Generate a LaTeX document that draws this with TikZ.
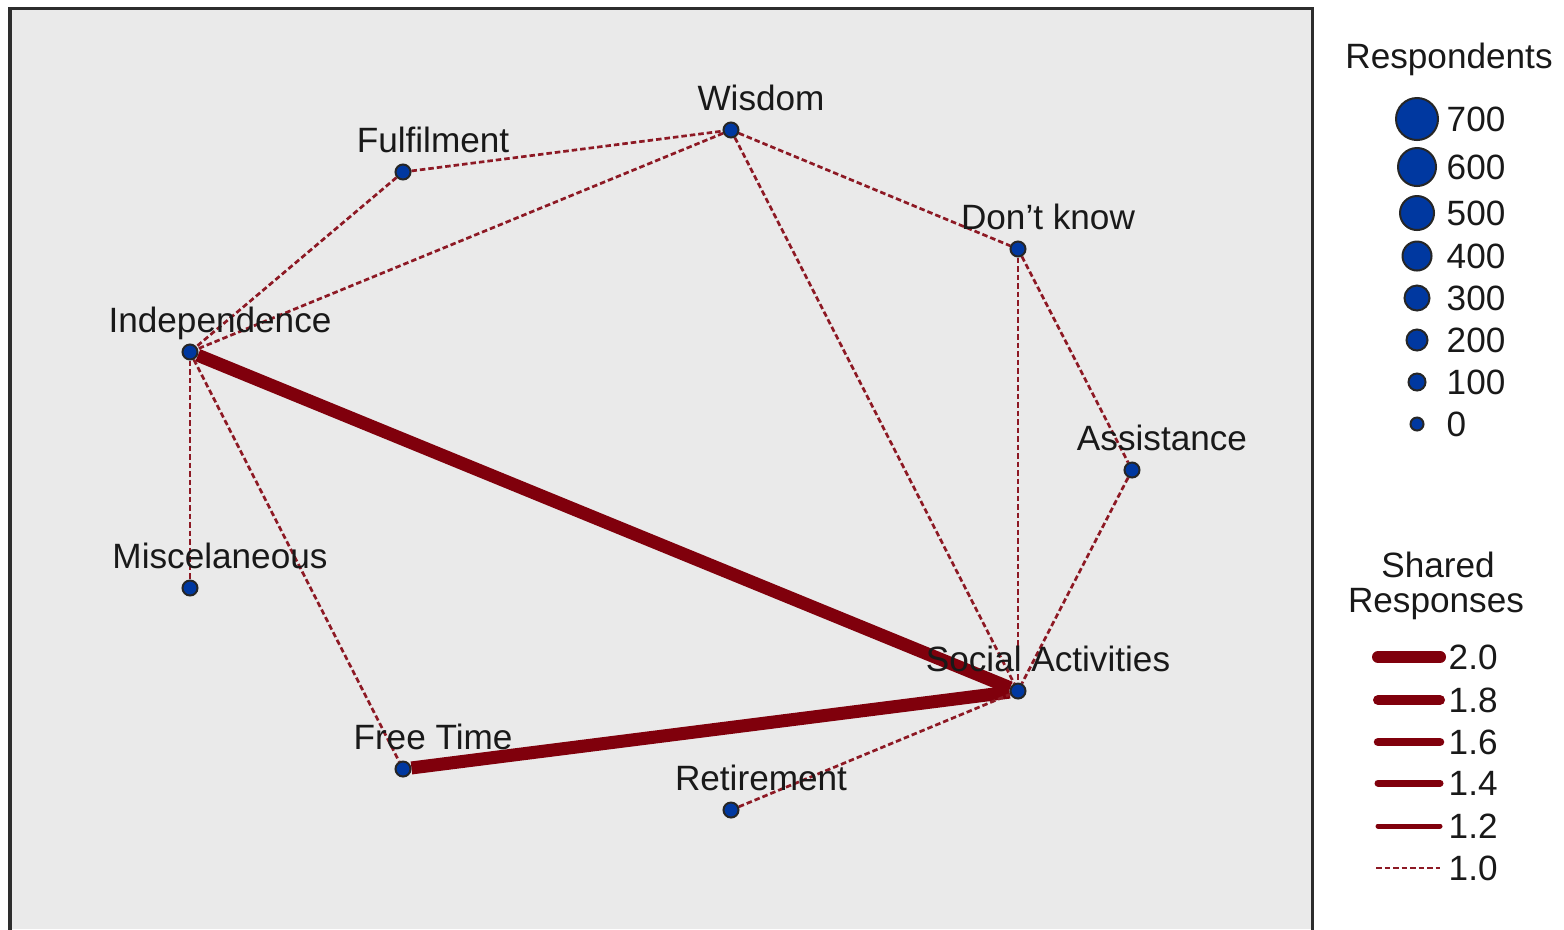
\documentclass[tikz,border=0pt]{standalone}
\usepackage{fontspec}
\setmainfont{Liberation Sans}
\usetikzlibrary{backgrounds}
\definecolor{panelgray}{RGB}{234,234,234}
\definecolor{dotblue}{RGB}{0,56,160}
\definecolor{linkred}{RGB}{128,0,12}
\definecolor{framegray}{RGB}{45,45,45}
\definecolor{textgray}{RGB}{25,25,25}
\begin{document}
\begin{tikzpicture}
            [
                x = 0.01cm, y = -0.01cm,
                dot/.style    = {circle, draw=black!85, line width=0.02cm,
                                 fill=dotblue, inner sep=0pt, minimum size=0.15cm},
                lbl/.style    = {anchor=base, inner sep=0pt, text=textgray,
                                 font=\fontsize{10}{12}\selectfont},
                weak/.style   = {draw=linkred!90, line width=0.027cm,
                                 dash pattern=on 0.055cm off 0.03cm},
                strong/.style = {draw=linkred, line width=0.13cm}
            ]
            \useasboundingbox (0,0) rectangle (1564,929);
            % answers
            \foreach \name/\x/\y/\txt in {wis/731/130/Wisdom, ful/403/172/Fulfilment,
                dkn/1018/249/{Don't know}, ind/190/352/Independence,
                ass/1132/470/Assistance, mis/190/588/Miscelaneous,
                soc/1018/691/{Social Activities}, fre/403/769/{Free Time},
                ret/731/810/Retirement}
            {
                \node [dot] (\name) at (\x,\y) {};
                \node [lbl] (\name-lbl) at (\x+30,\y-20) {\txt};
            }
            % links
            \begin{scope}[on background layer]
                \fill [panelgray] (10,8) rectangle (1312,929);
                \draw [framegray, line width=0.03cm] (10,935) -- (10,8) -- (1312,8) -- (1312,935);
                \draw [strong] (ind) -- (soc);
                \draw [strong] (fre) -- (soc);
                \foreach \a/\b in {ful/wis, ful/ind, wis/ind, wis/dkn, wis/soc,
                    dkn/soc, dkn/ass, ass/soc, ind/mis, ind/fre, ret/soc}
                    \draw [weak] (\a) -- (\b);
            \end{scope}
            % legend: respondents
            \node [lbl] (resp-title) at (1449,68) {Respondents};
            \foreach \n/\y/\d in {700/119/0.42, 600/167/0.38, 500/213/0.34,
                400/256/0.29, 300/298/0.25, 200/340/0.21, 100/382/0.17, 0/424/0.13}
            {
                \node [dot, minimum size=\d cm] (resp-\n) at (1417,\y) {};
                \node [lbl, anchor=west] (resp-\n-lbl) at (1446,\y) {\n};
            }
            % legend: shared responses
            \node [lbl] (shared-title) at (1438,577) {Shared};
            \node [lbl] (shared-title2) at (1436,612) {Responses};
            \foreach \v/\y/\w in {2.0/657/0.12, 1.8/700/0.10, 1.6/742/0.085,
                1.4/783/0.07, 1.2/826/0.05}
            {
                \draw [linkred, line width=\w cm, line cap=round] (1378,\y) -- (1440,\y);
                \node [lbl, anchor=west] (shared-\v) at (1448,\y) {\v};
            }
            \draw [weak] (1376,868) -- (1440,868);
            \node [lbl, anchor=west] (shared-1.0) at (1448,868) {1.0};
        \end{tikzpicture}
\end{document}
